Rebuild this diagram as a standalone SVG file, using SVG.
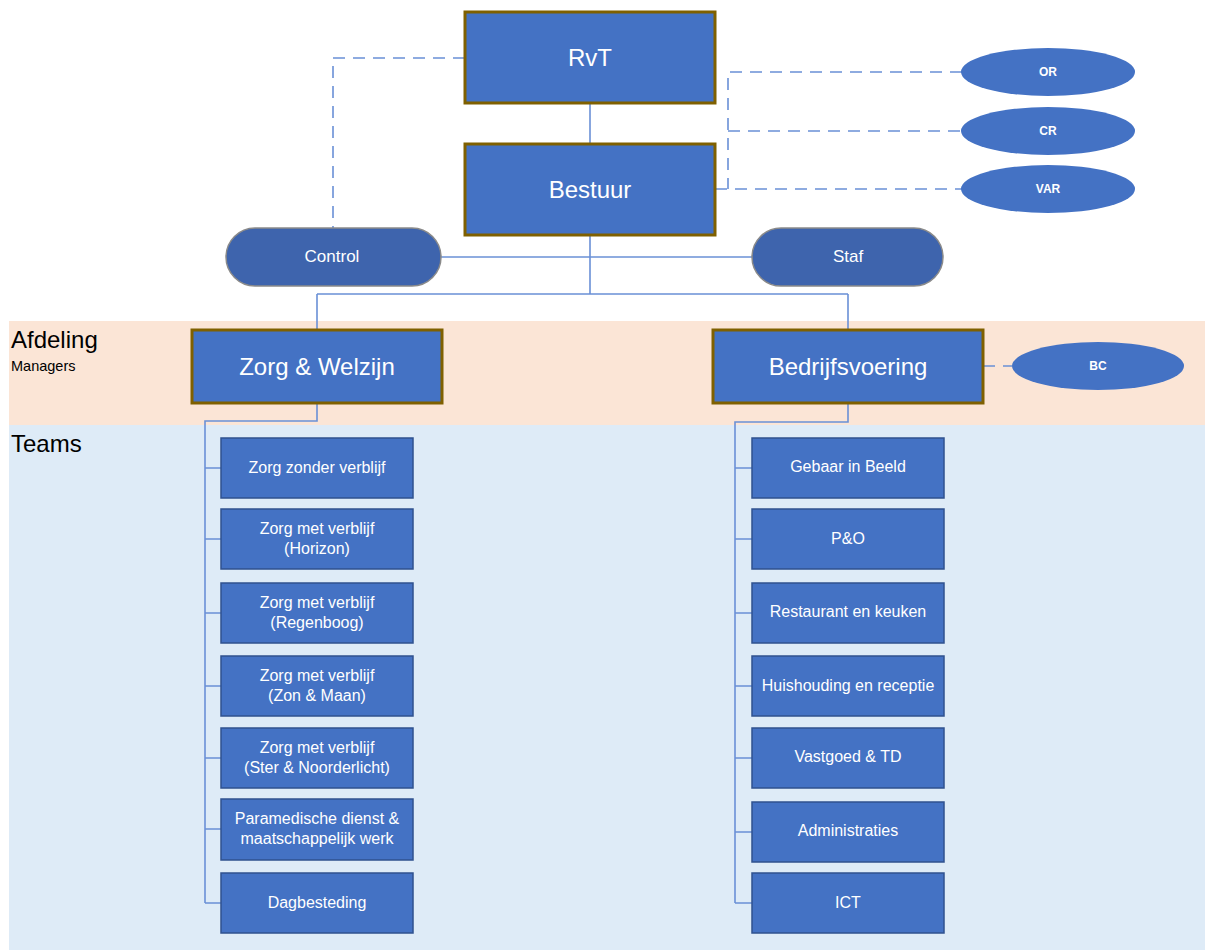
<svg xmlns="http://www.w3.org/2000/svg" width="1205" height="950" viewBox="0 0 1205 950">
<style>
.main{fill:#4472c4;stroke:#7f6000;stroke-width:3}
.team{fill:#4472c4;stroke:#2f528f;stroke-width:1.5}
.pill{fill:#3e64ad;stroke:#8a8a8a;stroke-width:1.5}
.ell{fill:#4472c4;stroke:none}
.t{font-family:"Liberation Sans",Arial,sans-serif;fill:#fff;text-anchor:middle}
.big{font-size:24px}
.mid{font-size:17px}
.tm{font-size:16px}
.sm{font-size:12px;font-weight:bold}
.lbl{font-family:"Liberation Sans",Arial,sans-serif;fill:#000}
.ln{fill:none;stroke:#6a90d6;stroke-width:1.6}
.dash{fill:none;stroke:#6a90d6;stroke-width:1.6;stroke-dasharray:12 8}
</style>
<rect x="0" y="0" width="1205" height="950" fill="#fff"/>
<rect x="9" y="321" width="1196" height="104" fill="#fbe5d6"/>
<rect x="9" y="425" width="1196" height="525" fill="#deebf7"/>
<text class="lbl" x="11" y="348" font-size="24">Afdeling</text>
<text class="lbl" x="11" y="371" font-size="14.5" fill="#333">Managers</text>
<text class="lbl" x="11" y="452" font-size="24">Teams</text>
<g id="connectors">
<path class="ln" d="M590 103V144"/>
<path class="ln" d="M590 235V294M317 294H848M317 294V330M848 294V330"/>
<path class="ln" d="M441 257H752"/>
<path class="dash" d="M465 58H333V228"/>
<path class="dash" d="M962 72H728V189M728 131H962M715 189H962"/>
<path class="dash" d="M983 366H1012"/>
<path class="ln" d="M317 403V421H205V903M205 468H221M205 539H221M205 613H221M205 686H221M205 758H221M205 829H221M205 903H221"/>
<path class="ln" d="M848 403V422H735V903M735 468H752M735 539H752M735 613H752M735 686H752M735 758H752M735 832H752M735 903H752"/>
</g>
<g id="rvt"><rect class="main" x="465" y="12" width="250" height="91"/><text class="t big" x="590" y="66">RvT</text></g>
<g id="bestuur"><rect class="main" x="465" y="144" width="250" height="91"/><text class="t big" x="590" y="198">Bestuur</text></g>
<g id="control"><rect class="pill" x="226" y="228" width="215" height="58" rx="29"/><text class="t mid" x="332" y="262">Control</text></g>
<g id="staf"><rect class="pill" x="752" y="228" width="191" height="58" rx="29"/><text class="t mid" x="848" y="262">Staf</text></g>
<g id="or"><ellipse class="ell" cx="1048" cy="72" rx="87" ry="24"/><text class="t sm" x="1048" y="76">OR</text></g>
<g id="cr"><ellipse class="ell" cx="1048" cy="131" rx="87" ry="24"/><text class="t sm" x="1048" y="135">CR</text></g>
<g id="var"><ellipse class="ell" cx="1048" cy="189" rx="87" ry="24"/><text class="t sm" x="1048" y="193">VAR</text></g>
<g id="zorg"><rect class="main" x="192" y="330" width="250" height="73"/><text class="t big" x="317" y="375">Zorg &amp; Welzijn</text></g>
<g id="bedrijf"><rect class="main" x="713" y="330" width="270" height="73"/><text class="t big" x="848" y="375">Bedrijfsvoering</text></g>
<g id="bc"><ellipse class="ell" cx="1098" cy="366" rx="86" ry="24"/><text class="t sm" x="1098" y="370">BC</text></g>
<g id="z1"><rect class="team" x="221" y="438" width="192" height="60"/><text class="t tm" x="317" y="473">Zorg zonder verblijf</text></g>
<g id="z2"><rect class="team" x="221" y="509" width="192" height="60"/><text class="t tm" x="317" y="534">Zorg met verblijf</text><text class="t tm" x="317" y="554">(Horizon)</text></g>
<g id="z3"><rect class="team" x="221" y="583" width="192" height="60"/><text class="t tm" x="317" y="608">Zorg met verblijf</text><text class="t tm" x="317" y="628">(Regenboog)</text></g>
<g id="z4"><rect class="team" x="221" y="656" width="192" height="60"/><text class="t tm" x="317" y="681">Zorg met verblijf</text><text class="t tm" x="317" y="701">(Zon &amp; Maan)</text></g>
<g id="z5"><rect class="team" x="221" y="728" width="192" height="60"/><text class="t tm" x="317" y="753">Zorg met verblijf</text><text class="t tm" x="317" y="773">(Ster &amp; Noorderlicht)</text></g>
<g id="z6"><rect class="team" x="221" y="799" width="192" height="61"/><text class="t tm" x="317" y="824">Paramedische dienst &amp;</text><text class="t tm" x="317" y="844">maatschappelijk werk</text></g>
<g id="z7"><rect class="team" x="221" y="873" width="192" height="60"/><text class="t tm" x="317" y="908">Dagbesteding</text></g>
<g id="b1"><rect class="team" x="752" y="438" width="192" height="60"/><text class="t tm" x="848" y="472">Gebaar in Beeld</text></g>
<g id="b2"><rect class="team" x="752" y="509" width="192" height="60"/><text class="t tm" x="848" y="544">P&amp;O</text></g>
<g id="b3"><rect class="team" x="752" y="583" width="192" height="60"/><text class="t tm" x="848" y="617">Restaurant en keuken</text></g>
<g id="b4"><rect class="team" x="752" y="656" width="192" height="60"/><text class="t tm" x="848" y="691">Huishouding en receptie</text></g>
<g id="b5"><rect class="team" x="752" y="728" width="192" height="60"/><text class="t tm" x="848" y="762">Vastgoed &amp; TD</text></g>
<g id="b6"><rect class="team" x="752" y="802" width="192" height="60"/><text class="t tm" x="848" y="836">Administraties</text></g>
<g id="b7"><rect class="team" x="752" y="873" width="192" height="60"/><text class="t tm" x="848" y="908">ICT</text></g>
</svg>
